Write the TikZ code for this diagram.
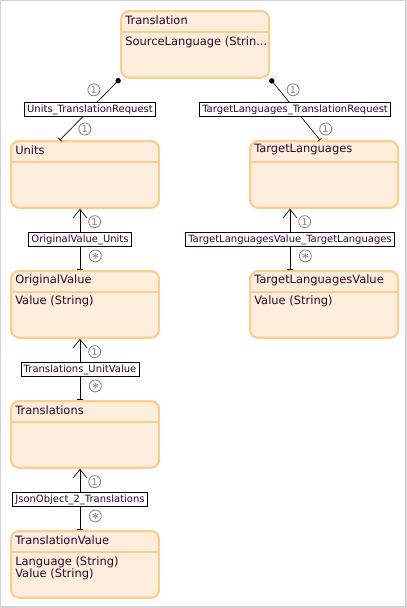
\documentclass[tikz,border=0pt]{standalone}
\usepackage{fontspec}
\setmainfont{DejaVu Sans}
\usetikzlibrary{arrows.meta,calc}

\definecolor{boxfill}{RGB}{253,237,219}
\definecolor{boxline}{RGB}{251,205,145}
\definecolor{ink}{RGB}{45,5,45}
\definecolor{framegray}{RGB}{212,212,212}

\tikzset{
  entity/.style={draw=boxline, fill=boxfill, line width=1.6pt, rounded corners=6pt,
    anchor=north west, minimum width=111pt, minimum height=50pt, inner sep=0pt},
  divider/.style={draw=boxline, line width=0.8pt},
  title/.style={anchor=west, inner sep=0pt, text=ink, font=\fontsize{8.6}{9}\selectfont},
  attr/.style={anchor=north west, inner sep=0pt, align=left, text=ink, font=\fontsize{8.6}{9}\selectfont},
  link/.style={line width=0.5pt},
  assoc/.style={draw, fill=white, text=ink, line width=0.6pt, inner xsep=2pt, inner ysep=1.6pt,
    font=\fontsize{7.5}{8}\selectfont},
  mult/.style={circle, draw=gray, text=gray, line width=0.6pt, inner sep=0pt, minimum size=9pt,
    font=\fontsize{7}{7}\selectfont},
  owner/.style={{Circle[length=4pt]}-{Bar[width=4pt]}},
  refers/.style={{Bar[width=4pt]}-{Straight Barb[length=6.5pt,width=10.5pt]}}
}
\newcommand{\manystar}{\fontsize{10}{10}\selectfont$\boldsymbol{\ast}$}

\usepackage{amsmath}

\begin{document}
\begin{tikzpicture}[x=0.75pt,y=-0.75pt]
\useasboundingbox (0,0) rectangle (407,608);
\draw[framegray, line width=1.2pt] (0.5,0.5) rectangle (406,607);

% Entity boxes: name / left / top / title
\foreach \name/\x/\y/\title in {Translation/120/10/Translation, Units/10/140/Units,
    TargetLanguages/249/140/TargetLanguages, OriginalValue/10/270/OriginalValue,
    TargetLanguagesValue/249/270/TargetLanguagesValue, Translations/10/400/Translations,
    TranslationValue/10/530/TranslationValue} {
  \node[entity] (\name) at (\x,\y) {};
  \draw[divider] ($(\name.north west)+(0,22)$) -- ($(\name.north east)+(0,22)$);
  \node[title] (\name-title) at ($(\name.north west)+(5,10)$) {\title};
}

% Attributes
\node[attr] (Translation-attr) at ($(Translation.north west)+(5,27)$) {SourceLanguage (Strin...};
\node[attr] (OriginalValue-attr) at ($(OriginalValue.north west)+(5,26)$) {Value (String)};
\node[attr] (TargetLanguagesValue-attr) at ($(TargetLanguagesValue.north west)+(5,26)$) {Value (String)};
\node[attr] (TranslationValue-attr) at ($(TranslationValue.north west)+(5,27)$) {Language (String)\\Value (String)};

% Translation owns Units and TargetLanguages
\draw[link, owner] (Translation.south west) -- node[assoc] (a1) {Units\_TranslationRequest}
  node[mult, pos=0.18, xshift=-11.5pt] (m1a) {1}
  node[mult, pos=0.82, xshift=10.5pt] (m1b) {1} ($(Units.north west)+(50,0)$);
\draw[link, owner] (Translation.south east) -- node[assoc] (a2) {TargetLanguages\_TranslationRequest}
  node[mult, pos=0.18, xshift=10.5pt] (m2a) {1}
  node[mult, pos=0.82, xshift=11pt] (m2b) {1} ($(TargetLanguages.north west)+(71,0)$);

% Value links pointing upwards
\foreach \from/\to/\dx/\lbl in {OriginalValue/Units/70/OriginalValue\_Units,
    TargetLanguagesValue/TargetLanguages/41/TargetLanguagesValue\_TargetLanguages,
    Translations/OriginalValue/70/Translations\_UnitValue,
    TranslationValue/Translations/70/JsonObject\_2\_Translations}
  \draw[link, refers] ($(\from.north west)+(\dx,0)$) -- node[assoc] {\lbl}
    node[mult, pos=0.23, xshift=11.5pt] {\manystar}
    node[mult, pos=0.79, xshift=11pt] {1} ($(\to.south west)+(\dx,0)$);

\end{tikzpicture}
\end{document}
